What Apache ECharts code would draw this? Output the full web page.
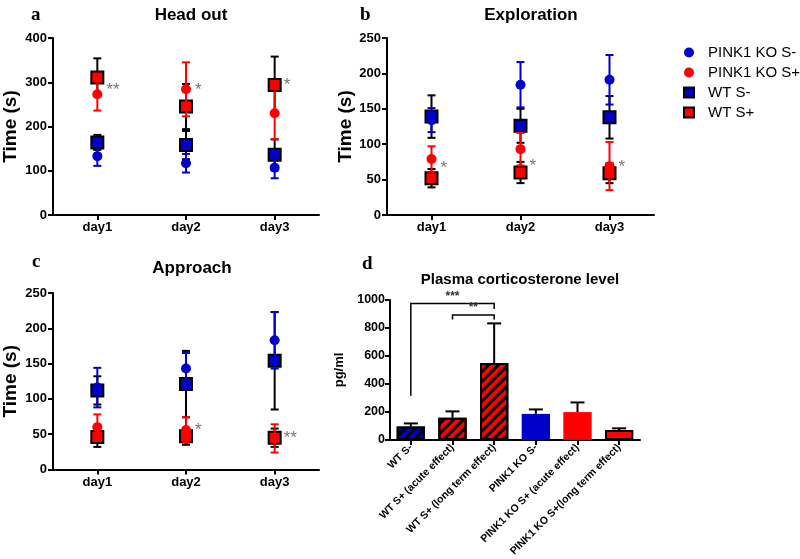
<!DOCTYPE html>
<html><head><meta charset="utf-8">
<script src="https://cdn.jsdelivr.net/npm/echarts@6/dist/echarts.min.js"></script>
<style>html,body{margin:0;padding:0;background:#fff}#c{width:800px;height:559px}</style>
</head><body><div id="c"></div>
<script>
// ---------- data ----------
const days = ['day1', 'day2', 'day3'];
const legendNames = ['PINK1 KO S-', 'PINK1 KO S+', 'WT S-', 'WT S+'];

// a: Head out
const headKoMinus = [133, 117, 107], headKoMinusErr = [22, 21, 24];
const headKoPlus = [273, 284, 230], headKoPlusErr = [37, 61, 59];
const headWtMinus = [164, 158, 136], headWtMinusErr = [17, 32, 35];
const headWtPlus = [311, 245, 294], headWtPlusErr = [43, 51, 64];
const headStars = ['**', '*', '*'], headStarY = [282, 282, 294];

// b: Exploration
const explKoMinus = [134, 184, 191], explKoMinusErr = [17, 32, 35];
const explKoPlus = [79, 93, 69], explKoPlusErr = [18, 23, 34];
const explWtMinus = [139, 126, 138], explWtMinusErr = [30, 24, 30];
const explWtPlus = [52, 60, 59], explWtPlusErr = [13, 15, 14];
const explStars = ['*', '*', '*'], explStarY = [66, 69, 68];

// c: Approach
const apprKoMinus = [116, 143, 183], apprKoMinusErr = [28, 22, 40];
const apprKoPlus = [60, 56, 44], apprKoPlusErr = [18, 18, 20];
const apprWtMinus = [112, 121, 154], apprWtMinusErr = [20, 47, 69];
const apprWtPlus = [46, 47, 45], apprWtPlusErr = [14, 12, 13];
const apprStars = ['', '*', '**'], apprStarY = [0, 56, 44];

// d: Plasma corticosterone level
const plasmaGroups = ['WT S-', 'WT S+ (acute effect)', 'WT S+ (long term effect)', 'PINK1 KO S-', 'PINK1 KO S+ (acute effect)', 'PINK1 KO S+(long term effect)'];
const plasmaMean = [96, 159, 550, 186, 199, 71];
const plasmaErr = [22, 45, 283, 32, 69, 12];
const bracketFrom = [0, 1], bracketTo = [2, 2];
const bracketTop = [975, 893], bracketLeftEnd = [315, 861], bracketRightEnd = [936, 861];
const bracketText = ['***', '**'];

// ---------- style ----------
const BLUE = '#0000c8', RED = '#ff0000', BLACK = '#000';
const FONT = '"Liberation Sans", Arial, sans-serif';

function errSeries(g, vals, errs, color, z) {
  return {
    type: 'custom', name: 'err', xAxisIndex: g, yAxisIndex: g, z: z, silent: true,
    data: vals.map((v, i) => [i, v, errs[i]]),
    encode: { x: 0, y: 1 },
    renderItem(params, api) {
      const x = api.value(0), v = api.value(1), e = api.value(2);
      const hi = api.coord([x, v + e]), lo = api.coord([x, v - e]);
      const w = 4, st = { stroke: color, lineWidth: 2 };
      return { type: 'group', children: [
        { type: 'line', shape: { x1: hi[0], y1: hi[1], x2: lo[0], y2: lo[1] }, style: st },
        { type: 'line', shape: { x1: hi[0] - w, y1: hi[1], x2: hi[0] + w, y2: hi[1] }, style: st },
        { type: 'line', shape: { x1: lo[0] - w, y1: lo[1], x2: lo[0] + w, y2: lo[1] }, style: st }
      ]};
    }
  };
}
function ptSeries(g, name, vals, z) {
  const isKo = name.startsWith('PINK1');
  const fill = name.endsWith('-') ? BLUE : RED;
  return {
    type: 'scatter', name: name, xAxisIndex: g, yAxisIndex: g, z: z,
    symbol: isKo ? 'circle' : 'rect', symbolSize: isKo ? 10 : 12,
    itemStyle: isKo ? { color: fill, opacity: 1 } : { color: fill, borderColor: BLACK, borderWidth: 2, opacity: 1 },
    data: vals.map((v, i) => [i, v])
  };
}
function starSeries(g, stars, ys) {
  return {
    type: 'scatter', name: 'stars', xAxisIndex: g, yAxisIndex: g, symbolSize: 0, silent: true, z: 20,
    data: stars.map((s, i) => ({ value: [i, ys[i]], label: { formatter: s } })),
    label: { show: true, position: 'right', distance: 9, color: '#555', fontSize: 17, fontFamily: FONT }
  };
}
function panelSeries(g, koM, koMe, koP, koPe, wtM, wtMe, wtP, wtPe, stars, starY) {
  return [
    errSeries(g, wtM, wtMe, BLACK, 2),
    errSeries(g, wtP, wtPe, BLACK, 2),
    ptSeries(g, 'WT S-', wtM, 3),
    ptSeries(g, 'WT S+', wtP, 3),
    errSeries(g, koM, koMe, BLUE, 4),
    errSeries(g, koP, koPe, RED, 4),
    ptSeries(g, 'PINK1 KO S-', koM, 5),
    ptSeries(g, 'PINK1 KO S+', koP, 5),
    starSeries(g, stars, starY)
  ];
}

const axisLine = { show: true, lineStyle: { color: BLACK, width: 2 } };
const axisTick = { show: true, length: 5, lineStyle: { color: BLACK, width: 2 } };
function xCat(g, data, extra) {
  return Object.assign({
    type: 'category', gridIndex: g, data: data,
    axisLine: axisLine, axisTick: Object.assign({ alignWithLabel: true }, axisTick),
    axisLabel: { color: BLACK, fontWeight: 'bold', fontSize: 13, fontFamily: FONT, margin: 6 },
    splitLine: { show: false }
  }, extra || {});
}
function yVal(g, max, interval, name, gap, extra) {
  return Object.assign({
    type: 'value', gridIndex: g, min: 0, max: max, interval: interval,
    name: name, nameLocation: 'middle', nameGap: gap,
    nameTextStyle: { color: BLACK, fontWeight: 'bold', fontSize: 19, fontFamily: FONT },
    axisLine: axisLine, axisTick: axisTick,
    axisLabel: { color: BLACK, fontWeight: 'bold', fontSize: 13, fontFamily: FONT, margin: 6, formatter: v => String(v) },
    splitLine: { show: false }
  }, extra || {});
}

// bars
const barItems = plasmaMean.map((v, i) => {
  const g = plasmaGroups[i];
  const fill = g.includes('S-') ? BLUE : RED;
  const item = { value: v, itemStyle: { color: fill } };
  if (g.startsWith('WT')) {
    item.itemStyle.borderColor = BLACK; item.itemStyle.borderWidth = 2;
    item.itemStyle.decal = { symbol: 'rect', symbolSize: 1, dashArrayX: [1, 0], dashArrayY: [3, 4], rotation: -Math.PI / 4, color: BLACK };
  } else if (g.includes('long term')) {
    item.itemStyle.borderColor = BLACK; item.itemStyle.borderWidth = 2;
  }
  return item;
});

const option = {
  animation: false,
  backgroundColor: '#fff',
  aria: { enabled: false },
  title: [
    { text: 'a', left: 26, top: 1, textStyle: { fontFamily: '"Liberation Serif", serif', fontWeight: 'bold', fontSize: 19, color: BLACK } },
    { text: 'b', left: 355, top: 1, textStyle: { fontFamily: '"Liberation Serif", serif', fontWeight: 'bold', fontSize: 19, color: BLACK } },
    { text: 'c', left: 27, top: 248, textStyle: { fontFamily: '"Liberation Serif", serif', fontWeight: 'bold', fontSize: 19, color: BLACK } },
    { text: 'd', left: 357, top: 250, textStyle: { fontFamily: '"Liberation Serif", serif', fontWeight: 'bold', fontSize: 19, color: BLACK } },
    { text: 'Head out', left: 186, textAlign: 'center', top: 2, textStyle: { fontFamily: FONT, fontWeight: 'bold', fontSize: 17, color: BLACK } },
    { text: 'Exploration', left: 526, textAlign: 'center', top: 2, textStyle: { fontFamily: FONT, fontWeight: 'bold', fontSize: 17, color: BLACK } },
    { text: 'Approach', left: 187, textAlign: 'center', top: 255, textStyle: { fontFamily: FONT, fontWeight: 'bold', fontSize: 17, color: BLACK } },
    { text: 'Plasma corticosterone level', left: 515, textAlign: 'center', top: 267, textStyle: { fontFamily: FONT, fontWeight: 'bold', fontSize: 15, color: BLACK } }
  ],
  legend: {
    data: legendNames, orient: 'vertical', left: 678, top: 40,
    itemWidth: 10, itemHeight: 10, itemGap: 5,
    textStyle: { fontFamily: FONT, fontSize: 15, color: BLACK, padding: [0, 0, 0, 9] },
    selectedMode: false
  },
  grid: [
    { left: 53, top: 38, width: 266, height: 177 },
    { left: 387, top: 38, width: 267, height: 177 },
    { left: 53, top: 293, width: 266, height: 176.5 },
    { left: 390, top: 300, width: 250, height: 155.7 }
  ],
  xAxis: [
    xCat(0, days), xCat(1, days), xCat(2, days),
    xCat(3, plasmaGroups, { axisLabel: { color: BLACK, fontWeight: 'bold', fontSize: 10.5, fontFamily: FONT, rotate: 45, margin: 6, interval: 0 } })
  ],
  yAxis: [
    yVal(0, 400, 100, 'Time (s)', 33),
    yVal(1, 250, 50, 'Time (s)', 28),
    yVal(2, 250, 50, 'Time (s)', 33),
    yVal(3, 1000, 200, 'pg/ml', 44, { nameTextStyle: { color: BLACK, fontWeight: 'bold', fontSize: 13, fontFamily: FONT }, axisLabel: { color: BLACK, fontWeight: 'bold', fontSize: 12.5, fontFamily: FONT, margin: 5, formatter: v => String(v) } })
  ],
  series: [].concat(
    panelSeries(0, headKoMinus, headKoMinusErr, headKoPlus, headKoPlusErr, headWtMinus, headWtMinusErr, headWtPlus, headWtPlusErr, headStars, headStarY),
    panelSeries(1, explKoMinus, explKoMinusErr, explKoPlus, explKoPlusErr, explWtMinus, explWtMinusErr, explWtPlus, explWtPlusErr, explStars, explStarY),
    panelSeries(2, apprKoMinus, apprKoMinusErr, apprKoPlus, apprKoPlusErr, apprWtMinus, apprWtMinusErr, apprWtPlus, apprWtPlusErr, apprStars, apprStarY),
    [
      { type: 'bar', name: 'plasma', xAxisIndex: 3, yAxisIndex: 3, barWidth: '68%', data: barItems, z: 2 },
      {
        type: 'custom', name: 'plasmaErr', xAxisIndex: 3, yAxisIndex: 3, z: 1, silent: true,
        data: plasmaMean.map((v, i) => [i, v, plasmaErr[i]]), encode: { x: 0, y: 1 },
        renderItem(params, api) {
          const x = api.value(0), v = api.value(1), e = api.value(2);
          const hi = api.coord([x, v + e]), lo = api.coord([x, v]);
          const w = 7, st = { stroke: BLACK, lineWidth: 2 };
          return { type: 'group', children: [
            { type: 'line', shape: { x1: hi[0], y1: hi[1], x2: lo[0], y2: lo[1] }, style: st },
            { type: 'line', shape: { x1: hi[0] - w, y1: hi[1], x2: hi[0] + w, y2: hi[1] }, style: st }
          ]};
        }
      },
      {
        type: 'custom', name: 'brackets', xAxisIndex: 3, yAxisIndex: 3, z: 5, silent: true,
        data: bracketFrom.map((f, i) => [f, bracketTo[i], bracketTop[i], bracketLeftEnd[i], bracketRightEnd[i]]),
        encode: { x: [0, 1], y: [2, 3, 4] },
        renderItem(params, api) {
          const a = api.value(0), b = api.value(1), t = api.value(2), l = api.value(3), r = api.value(4);
          const p1 = api.coord([a, l]), p2 = api.coord([a, t]), p3 = api.coord([b, t]), p4 = api.coord([b, r]);
          return { type: 'group', children: [
            { type: 'polyline', shape: { points: [p1, p2, p3, p4] }, style: { stroke: BLACK, lineWidth: 1.5, fill: null } },
            { type: 'text', style: { text: bracketText[params.dataIndex], x: (p2[0] + p3[0]) / 2, y: p2[1] - 1, align: 'center', verticalAlign: 'bottom', fontSize: 12, fontWeight: 'bold', fontFamily: FONT, fill: '#333' } }
          ]};
        }
      }
    ]
  )
};
const chart = echarts.init(document.getElementById('c'), null, { renderer: 'canvas' });
chart.setOption(option);
</script>
</body></html>
